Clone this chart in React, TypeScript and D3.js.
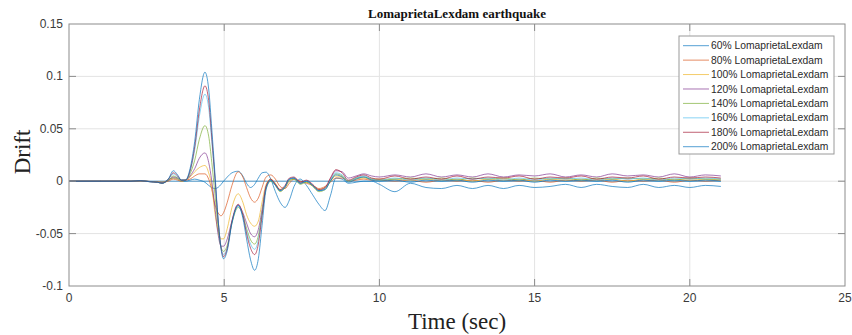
import React from "react";
import * as d3 from "d3";

// Time samples (s)
const time = [
  0, 1, 2, 2.3, 2.6, 2.85, 3, 3.2, 3.36, 3.5, 3.62, 3.75, 3.9, 4.05, 4.2, 4.38,
  4.5, 4.6, 4.7, 4.8, 4.9, 4.98, 5.1, 5.25, 5.45, 5.6, 5.72, 5.85, 5.98, 6.1,
  6.22, 6.35,
  6.5, 6.65, 6.8, 6.96, 7.1, 7.25, 7.45, 7.65, 7.85, 8.05, 8.25, 8.42, 8.6, 8.8,
  9, 9.25, 9.5, 9.75, 10,
  10.5, 11, 11.5, 12, 12.5, 13, 13.5, 14, 14.5, 15, 15.5, 16, 16.5, 17, 17.5,
  18, 18.5, 19, 19.5, 20, 20.5, 21,
];

// Drift response per excitation scale
const drift60 = [
  0, 0, 0, 0.0003, -0.0003, -0.0008, -0.001, 0.001, 0.003, 0.002, 0, 0, 0.001,
  0.002, 0.001, -0.001, -0.004, -0.006, -0.007, -0.006, -0.003, 0, 0.004, 0.008,
  0.0095, 0.005, -0.002, -0.006, -0.003, 0.003, 0.008, 0.0086,
  0.002, -0.01, -0.02, -0.025, -0.018, -0.005, 0.002, -0.004, -0.013, -0.022,
  -0.028, -0.014, 0.003, 0.002, -0.002, -0.001, 0, 0, -0.003,
  -0.01, -0.002, -0.006, -0.007, -0.004, -0.007, -0.004, -0.007, -0.004, -0.006,
  -0.005, -0.003, -0.006, -0.003, -0.005, -0.006, -0.003, -0.006, -0.004, -0.006,
  -0.004, -0.005,
];
const drift80 = [
  0, 0, 0, 0.0002, -0.0002, -0.0005, -0.001, 0, 0.002, 0.001, 0, 0.001, 0.002,
  0.005, 0.007, 0.007, 0.002, -0.008, -0.022, -0.03, -0.033, -0.03, -0.02,
  -0.004, 0.009, 0.004, -0.006, -0.016, -0.02, -0.016, -0.006, 0.004,
  0.006, 0.002, -0.005, -0.007, -0.002, 0.002, 0, -0.002, -0.004, -0.007,
  -0.005, -0.001, 0.003, 0.003, 0, 0.001, 0.002, 0.001, 0.001,
  0, 0.001, -0.001, 0.001, 0, 0.001, -0.001, 0.001, 0, 0.001, -0.001, 0.001, 0,
  0.001, -0.001, 0.001, 0, 0.001, -0.001, 0.001, 0, 0.001,
];
const drift100 = [
  0, 0, 0, 0.0003, -0.0003, -0.0008, -0.001, 0.001, 0.003, 0.002, 0, 0.001,
  0.004, 0.009, 0.013, 0.015, 0.008, -0.005, -0.03, -0.047, -0.055, -0.055,
  -0.045, -0.025, -0.012, -0.02, -0.032, -0.04, -0.043, -0.038, -0.02, -0.003,
  0.002, -0.002, -0.008, -0.006, 0, 0.002, -0.002, -0.001, -0.004, -0.008,
  -0.006, 0, 0.005, 0.004, 0, 0.002, 0.003, 0.002, 0.002,
  0.002, 0.001, 0.002, 0.001, 0.002, 0, 0.002, 0.001, 0.002, 0, 0.002, 0.001,
  0.002, 0.001, 0.002, 0, 0.002, 0.001, 0.002, 0.001, 0.002, 0.001,
];
const drift120 = [
  0, 0, 0, 0.0003, -0.0003, -0.001, -0.0015, 0.001, 0.004, 0.003, 0.001, 0.001,
  0.005, 0.012, 0.022, 0.027, 0.018, 0, -0.025, -0.05, -0.062, -0.062, -0.055,
  -0.038, -0.023, -0.03, -0.04, -0.05, -0.053, -0.046, -0.027, -0.005,
  0.001, -0.003, -0.009, -0.006, 0.002, 0.003, -0.002, 0, -0.004, -0.009,
  -0.007, 0.002, 0.01, 0.009, 0.003, 0.005, 0.007, 0.005, 0.004,
  0.006, 0.004, 0.007, 0.004, 0.006, 0.004, 0.007, 0.004, 0.006, 0.005, 0.007,
  0.004, 0.006, 0.004, 0.007, 0.005, 0.006, 0.004, 0.007, 0.004, 0.006, 0.005,
];
const drift140 = [
  0, 0, 0, 0.0004, -0.0004, -0.001, -0.002, 0.001, 0.005, 0.003, 0.001, 0.001,
  0.007, 0.02, 0.04, 0.053, 0.043, 0.018, -0.012, -0.043, -0.063, -0.067,
  -0.061, -0.04, -0.025, -0.032, -0.045, -0.056, -0.06, -0.052, -0.03, -0.007,
  0, -0.004, -0.01, -0.006, 0.001, 0.002, -0.003, -0.001, -0.005, -0.01,
  -0.008, 0, 0.007, 0.005, 0, 0.003, 0.004, 0.002, 0.001,
  0.002, 0.003, 0.002, 0.003, 0.001, 0.003, 0.002, 0.003, 0.001, 0.003, 0.002,
  0.003, 0.001, 0.003, 0.002, 0.003, 0.002, 0.003, 0.001, 0.003, 0.002, 0.002,
];
const drift160 = [
  0, 0, 0, 0.0005, -0.0005, -0.001, -0.002, 0.002, 0.007, 0.004, 0.001, 0.001,
  0.009, 0.03, 0.062, 0.083, 0.07, 0.038, 0.002, -0.036, -0.063, -0.07, -0.063,
  -0.039, -0.024, -0.033, -0.048, -0.06, -0.065, -0.056, -0.031, -0.006,
  0.001, -0.004, -0.009, -0.005, 0.002, 0.003, -0.002, 0, -0.004, -0.009,
  -0.007, 0.001, 0.008, 0.006, 0, 0.003, 0.005, 0.002, 0.001,
  0.003, 0.001, 0.003, 0.001, 0.003, 0.002, 0.003, 0.001, 0.003, 0.001, 0.003,
  0.002, 0.003, 0.001, 0.003, 0.002, 0.003, 0.001, 0.003, 0.002, 0.003, 0.002,
];
const drift180 = [
  0, 0, 0, 0.0005, -0.0005, -0.001, -0.002, 0.002, 0.008, 0.005, 0.001, 0.001,
  0.01, 0.033, 0.068, 0.091, 0.077, 0.042, 0.004, -0.036, -0.064, -0.072,
  -0.064, -0.038, -0.022, -0.032, -0.05, -0.064, -0.07, -0.06, -0.033, -0.005,
  0.002, -0.003, -0.008, -0.004, 0.003, 0.004, -0.001, 0.001, -0.003, -0.008,
  -0.006, 0.003, 0.011, 0.008, 0.001, 0.004, 0.006, 0.003, 0.002,
  0.005, 0.002, 0.004, 0.002, 0.005, 0.002, 0.004, 0.003, 0.005, 0.002, 0.004,
  0.003, 0.005, 0.002, 0.004, 0.003, 0.005, 0.002, 0.004, 0.003, 0.004, 0.003,
];
const drift200 = [
  0, 0, 0, 0.0005, -0.0005, -0.001, -0.002, 0.002, 0.01, 0.006, 0.001, 0.001,
  0.012, 0.038, 0.078, 0.104, 0.088, 0.05, 0.008, -0.035, -0.065, -0.074,
  -0.066, -0.04, -0.023, -0.035, -0.055, -0.075, -0.085, -0.074, -0.042, -0.008,
  0.001, -0.004, -0.009, -0.005, 0.002, 0.003, -0.002, 0, -0.004, -0.009,
  -0.008, 0, 0.006, 0.004, -0.001, 0.002, 0.004, 0.001, 0,
  0.001, -0.001, 0.001, 0, 0.001, -0.001, 0.001, 0, 0.001, -0.001, 0.001, 0,
  0.001, 0, 0.001, -0.001, 0.001, 0, 0.001, 0, 0.001, 0,
];

// Zero reference trace
const baselineTime = [0, 21];
const baselineDrift = [0, 0];

const seriesLabels = [
  "60% LomaprietaLexdam",
  "80% LomaprietaLexdam",
  "100% LomaprietaLexdam",
  "120% LomaprietaLexdam",
  "140% LomaprietaLexdam",
  "160% LomaprietaLexdam",
  "180% LomaprietaLexdam",
  "200% LomaprietaLexdam",
];
const seriesValues = [drift60, drift80, drift100, drift120, drift140, drift160, drift180, drift200];
const seriesColors = ["#0072BD", "#D95319", "#EDB120", "#7E2F8E", "#77AC30", "#4DBEEE", "#A2142F", "#0072BD"];

const xTicks = [0, 5, 10, 15, 20, 25];
const yTicks = [-0.1, -0.05, 0, 0.05, 0.1, 0.15];
const yTickLabels = ["-0.1", "-0.05", "0", "0.05", "0.1", "0.15"];

const W = 852;
const H = 335;
const M = { left: 69, right: 845, top: 24, bottom: 286 };

export default function App() {
  const x = d3.scaleLinear().domain([0, 25]).range([M.left, M.right]);
  const y = d3.scaleLinear().domain([-0.1, 0.15]).range([M.bottom, M.top]);

  const line = d3
    .line<[number, number]>()
    .x((d) => x(d[0]))
    .y((d) => y(d[1]))
    .curve(d3.curveMonotoneX);

  const axisColor = "#8c8c8c";
  const gridColor = "#e3e3e3";
  const tickLen = 7;
  const sans = "'Liberation Sans', Arial, Helvetica, sans-serif";
  const serif = "'Liberation Serif', 'Times New Roman', Times, serif";

  const legend = { x: 679, y: 36, w: 155, h: 118, row: 14.43 };

  return (
    <div style={{ position: "absolute", left: 0, top: 0 }}>
      <svg width={W} height={H} viewBox={`0 0 ${W} ${H}`} style={{ display: "block", background: "#fff" }}>
        <rect x={0} y={0} width={W} height={H} fill="#fff" />

        {/* grid */}
        {xTicks.slice(1, -1).map((t) => (
          <line key={`gx${t}`} x1={x(t)} x2={x(t)} y1={M.top} y2={M.bottom} stroke={gridColor} strokeWidth={1} />
        ))}
        {yTicks.slice(1, -1).map((t) => (
          <line key={`gy${t}`} x1={M.left} x2={M.right} y1={y(t)} y2={y(t)} stroke={gridColor} strokeWidth={1} />
        ))}

        {/* data */}
        <g fill="none" strokeWidth={0.9} strokeLinejoin="round">
          <path
            d={line(baselineTime.map((t, i) => [t, baselineDrift[i]]) as [number, number][]) || ""}
            stroke={seriesColors[0]}
            strokeOpacity={0.75}
          />
          {seriesValues.map((vals, si) => (
            <path
              key={si}
              d={line(time.map((t, i) => [t, vals[i]]) as [number, number][]) || ""}
              stroke={seriesColors[si]}
              strokeOpacity={0.75}
            />
          ))}
        </g>

        {/* axes box */}
        <rect x={M.left} y={M.top} width={M.right - M.left} height={M.bottom - M.top} fill="none" stroke={axisColor} strokeWidth={1} />
        {xTicks.slice(1, -1).map((t) => (
          <g key={`tx${t}`} stroke={axisColor}>
            <line x1={x(t)} x2={x(t)} y1={M.bottom} y2={M.bottom - tickLen} />
            <line x1={x(t)} x2={x(t)} y1={M.top} y2={M.top + tickLen} />
          </g>
        ))}
        {yTicks.slice(1, -1).map((t) => (
          <g key={`ty${t}`} stroke={axisColor}>
            <line x1={M.left} x2={M.left + tickLen} y1={y(t)} y2={y(t)} />
            <line x1={M.right} x2={M.right - tickLen} y1={y(t)} y2={y(t)} />
          </g>
        ))}

        {/* tick labels */}
        <g fontFamily={sans} fontSize={12} fill="#3a3a3a">
          {xTicks.map((t) => (
            <text key={`lx${t}`} x={x(t)} y={M.bottom + 16} textAnchor="middle">
              {t}
            </text>
          ))}
          {yTicks.map((t, i) => (
            <text key={`ly${t}`} x={M.left - 6} y={y(t) + 4} textAnchor="end">
              {yTickLabels[i]}
            </text>
          ))}
        </g>

        {/* titles */}
        <text x={(M.left + M.right) / 2} y={18} textAnchor="middle" fontFamily={serif} fontWeight="bold" fontSize={13} fill="#111">
          LomaprietaLexdam earthquake
        </text>
        <text x={(M.left + M.right) / 2} y={329} textAnchor="middle" fontFamily={serif} fontSize={23} fill="#222">
          Time (sec)
        </text>
        <text transform={`translate(30,152) rotate(-90)`} textAnchor="middle" fontFamily={serif} fontSize={23} fill="#222">
          Drift
        </text>

        {/* legend */}
        <rect x={legend.x} y={legend.y} width={legend.w} height={legend.h} fill="#fff" stroke="#9a9a9a" strokeWidth={1} />
        {seriesLabels.map((label, i) => {
          const cy = legend.y + 9.7 + i * legend.row;
          return (
            <g key={label}>
              <line x1={legend.x + 4} x2={legend.x + 30} y1={cy} y2={cy} stroke={seriesColors[i]} strokeOpacity={0.75} strokeWidth={0.9} />
              <text x={legend.x + 32} y={cy + 3.6} fontFamily={sans} fontSize={10.3} fill="#2a2a2a">
                {label}
              </text>
            </g>
          );
        })}
      </svg>
    </div>
  );
}
